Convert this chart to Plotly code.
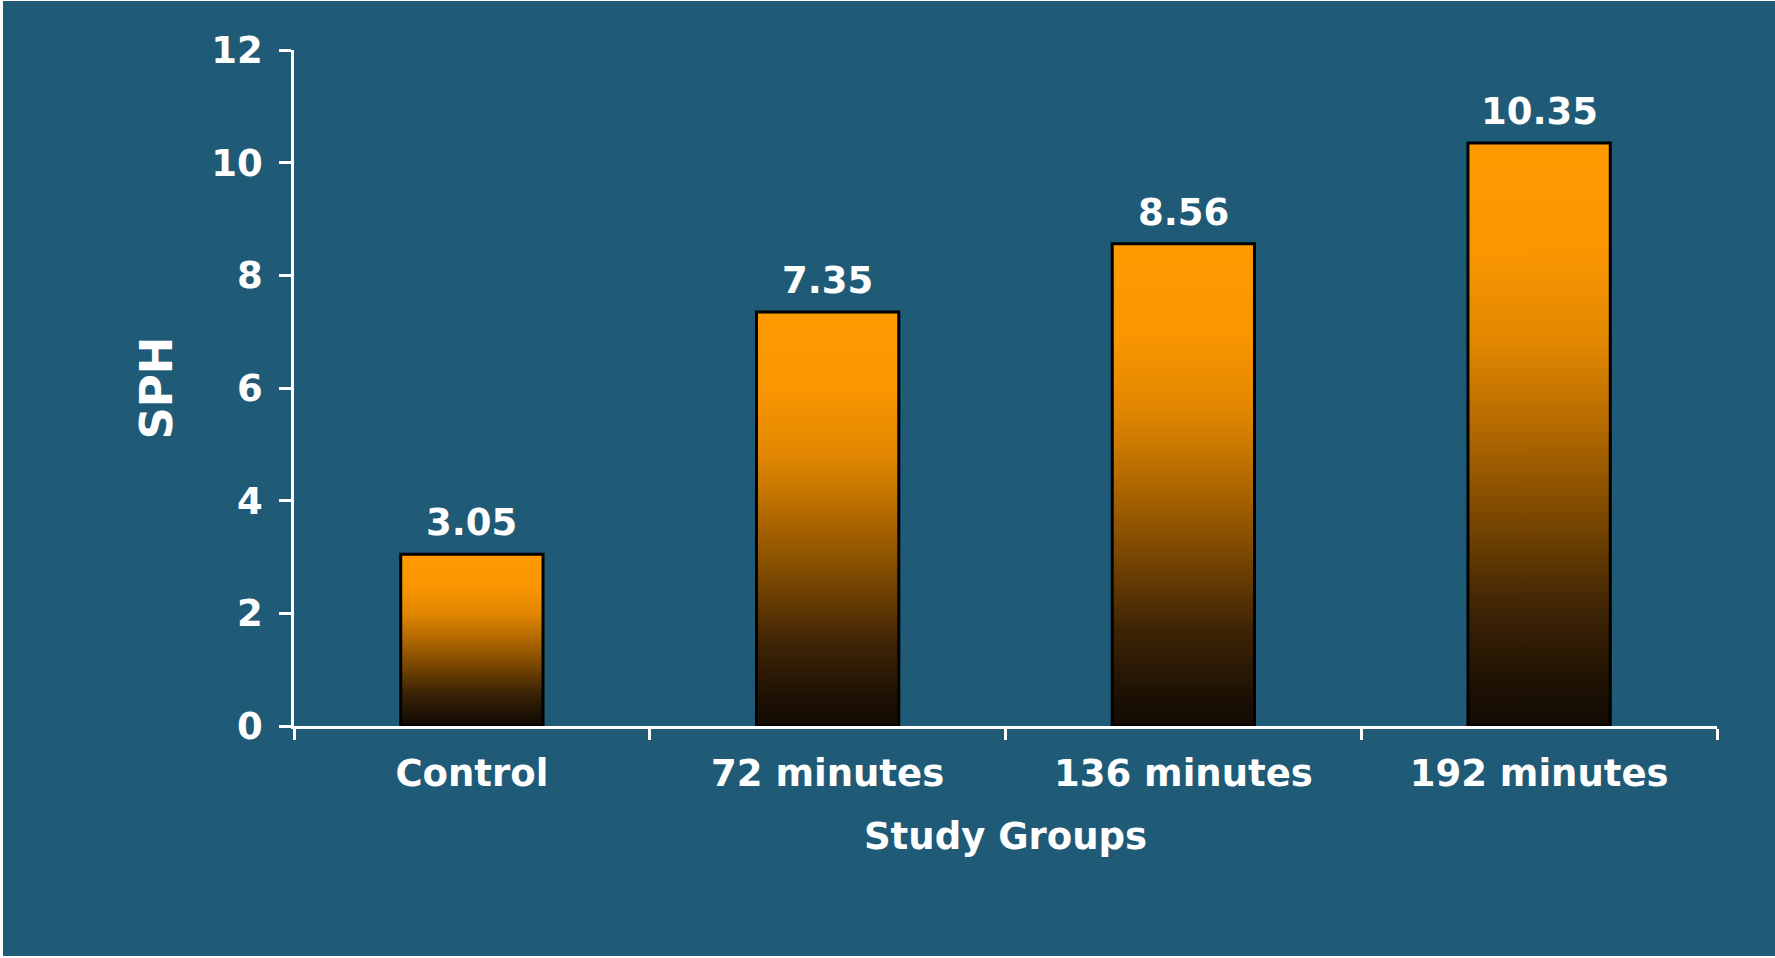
import plotly.graph_objects as go

# Study groups and mean SPH values
groups = ["Control", "72 minutes", "136 minutes", "192 minutes"]
sph = [3.05, 7.35, 8.56, 10.35]
y_ticks = [0, 2, 4, 6, 8, 10, 12]

BG = "#1f5a77"
FONT = "DejaVu Sans"
BAR_WIDTH = 0.4

W, H = 1775, 958
ML, MR, MT, MB = 294, 58, 50, 232

# dark-to-orange vertical gradient (0 = bar base, 1 = bar top)
gradient = [
    [0.0, "rgb(20,11,3)"],
    [0.06, "rgb(28,16,4)"],
    [0.2, "rgb(62,36,5)"],
    [0.35, "rgb(120,70,0)"],
    [0.5, "rgb(175,103,0)"],
    [0.65, "rgb(224,134,0)"],
    [0.8, "rgb(248,149,0)"],
    [1.0, "rgb(255,155,0)"],
]

fig = go.Figure()

for i, v in enumerate(sph):
    x0, x1 = i - BAR_WIDTH / 2, i + BAR_WIDTH / 2
    fig.add_trace(go.Scatter(
        x=[x0, x0, x1, x1, x0],
        y=[0, v, v, 0, 0],
        mode="lines",
        fill="toself",
        fillgradient=dict(type="vertical", colorscale=gradient, start=0, stop=v),
        line=dict(color="black", width=3),
        hoverinfo="skip",
        showlegend=False,
    ))

# value labels above each bar
for i, v in enumerate(sph):
    fig.add_annotation(
        x=i, y=v, text=f"{v:.2f}", showarrow=False,
        yanchor="bottom", yshift=8,
        font=dict(family=FONT, size=37, color="white", weight="bold"),
    )

# blue slide panel with a thin white edge on the left, top and bottom
pw, ph = W - ML - MR, H - MT - MB
fig.add_shape(
    type="rect", xref="paper", yref="paper", layer="below",
    x0=(3 - ML) / pw, x1=(W - ML) / pw,
    y0=(ph - (H - 2 - MT)) / ph, y1=(ph - (1 - MT)) / ph,
    fillcolor=BG, line=dict(width=0),
)

fig.update_layout(
    width=W, height=H,
    margin=dict(l=ML, r=MR, t=MT, b=MB, pad=0),
    paper_bgcolor="white",
    plot_bgcolor=BG,
    showlegend=False,
    font=dict(family=FONT, color="white", weight="bold"),
    xaxis=dict(
        range=[-0.5, len(groups) - 0.5],
        tickmode="array",
        tickvals=list(range(len(groups))),
        ticktext=groups,
        ticks="",
        showgrid=False, zeroline=False,
        showline=True, linecolor="white", linewidth=2.5,
        tickfont=dict(family=FONT, size=37, color="white", weight="bold"),
        ticklabelstandoff=13,
        minor=dict(
            tickmode="array",
            tickvals=[k - 0.5 for k in range(len(groups) + 1)],
            ticks="outside", ticklen=11, tickwidth=2.5, tickcolor="white",
            showgrid=False,
        ),
        title=dict(
            text="Study Groups", standoff=29,
            font=dict(family=FONT, size=37, color="white", weight="bold"),
        ),
        fixedrange=True,
    ),
    yaxis=dict(
        range=[0, 12],
        tickmode="array",
        tickvals=y_ticks,
        ticks="outside", ticklen=12, tickwidth=2.5, tickcolor="white",
        showgrid=False, zeroline=False,
        showline=True, linecolor="white", linewidth=2.5,
        tickfont=dict(family=FONT, size=37, color="white", weight="bold"),
        ticklabelstandoff=9,
        title=dict(
            text="SPH", standoff=25,
            font=dict(family=FONT, size=45, color="white", weight="bold"),
        ),
        fixedrange=True,
    ),
)

fig.write_html("out.html")
